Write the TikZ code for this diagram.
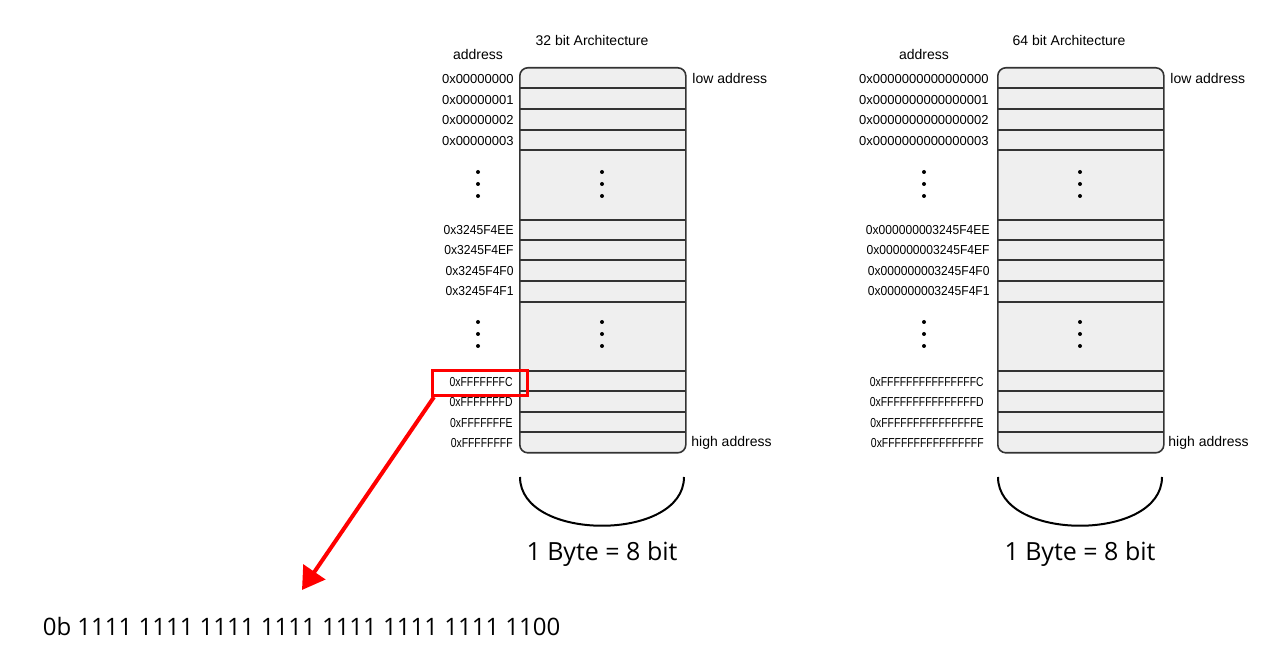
\documentclass[tikz,border=0pt]{standalone}
\usepackage{fontspec}
\setmainfont{Liberation Sans}
\newfontfamily\bigfont{Open Sans}
\usetikzlibrary{arrows.meta}
\definecolor{cellfill}{HTML}{EFEFEF}
\definecolor{cellline}{HTML}{333333}
\definecolor{hl}{HTML}{FF0000}
\newcommand{\narrowF}[1]{\scalebox{0.8}[1]{#1}}
\newcommand{\narrowM}[1]{\scalebox{0.93}[1]{#1}}
\begin{document}
\begin{tikzpicture}[x=0.5pt,y=-0.5pt,
  hexlbl/.style={font=\fontsize{6.5}{7}\selectfont, anchor=east, inner sep=0pt, yshift=-0.5pt},
  sidelbl/.style={font=\fontsize{7}{8}\selectfont, anchor=west, inner sep=0pt, yshift=-0.5pt},
  headlbl/.style={font=\fontsize{7}{8}\selectfont, inner sep=0pt, yshift=-0.5pt},
  membox/.style={draw=cellline, fill=cellfill, line width=0.8pt, rounded corners=4pt,
    minimum width=83pt, minimum height=192.5pt, anchor=north west, inner sep=0pt},
  rowline/.style={draw=cellline, line width=0.8pt},
  dotmark/.style={fill=black, circle, inner sep=0pt, minimum size=2pt},
  bytearc/.style={draw=black, line width=1pt},
  bytelbl/.style={font=\bigfont\fontsize{12.5}{14}\selectfont, inner sep=0pt},
]
\useasboundingbox (0,0) rectangle (1280,657);

% ---------------- 32 bit ----------------
\node[headlbl] (t32) at (592,40) {32 bit Architecture};
\node[headlbl] (a32) at (478,54) {address};
\node[membox] (m32) at (519,67) {};
\foreach \y in {88,109,130,150,220,240,260,281,302,371,391,412,432}
  \draw[rowline] (519,\y) -- (685,\y);
\node[sidelbl] (lo32) at (692,78) {low address};
\node[sidelbl] (hi32) at (691,442) {high address};
\node[hexlbl] (h32a) at (514,78) {0x00000000};
\node[hexlbl] (h32b) at (514,99) {0x00000001};
\node[hexlbl] (h32c) at (514,119) {0x00000002};
\node[hexlbl] (h32d) at (514,140) {0x00000003};
\node[hexlbl] (h32e) at (514,229) {\narrowM{0x3245F4EE}};
\node[hexlbl] (h32f) at (514,249) {\narrowM{0x3245F4EF}};
\node[hexlbl] (h32g) at (514,270) {\narrowM{0x3245F4F0}};
\node[hexlbl] (h32h) at (514,290) {\narrowM{0x3245F4F1}};
\node[hexlbl] (h32i) at (513,381) {\narrowF{0xFFFFFFFC}};
\node[hexlbl] (h32j) at (513,401) {\narrowF{0xFFFFFFFD}};
\node[hexlbl] (h32k) at (513,422) {\narrowF{0xFFFFFFFE}};
\node[hexlbl] (h32l) at (513,442) {\narrowF{0xFFFFFFFF}};
\foreach \x/\n in {478/l,602/r}{
  \foreach \y/\m in {172/a,184/b,196/c,322/d,334/e,346/f}
    \node[dotmark] (d32\n\m) at (\x,\y) {};
}
\draw[bytearc] (520,477) .. controls (520,542) and (684,542) .. (684,477);
\node[bytelbl] (b32) at (602,554) {1 Byte = 8 bit};

% ---------------- 64 bit ----------------
\node[headlbl] (t64) at (1069,40) {64 bit Architecture};
\node[headlbl] (a64) at (924,54) {address};
\node[membox] (m64) at (997,67) {};
\foreach \y in {88,109,130,150,220,240,260,281,302,371,391,412,432}
  \draw[rowline] (997,\y) -- (1163,\y);
\node[sidelbl] (lo64) at (1170,78) {low address};
\node[sidelbl] (hi64) at (1168,442) {high address};
\node[hexlbl] (h64a) at (989,78) {0x0000000000000000};
\node[hexlbl] (h64b) at (989,99) {0x0000000000000001};
\node[hexlbl] (h64c) at (989,119) {0x0000000000000002};
\node[hexlbl] (h64d) at (989,140) {0x0000000000000003};
\node[hexlbl] (h64e) at (990,229) {\narrowM{0x000000003245F4EE}};
\node[hexlbl] (h64f) at (990,249) {\narrowM{0x000000003245F4EF}};
\node[hexlbl] (h64g) at (990,270) {\narrowM{0x000000003245F4F0}};
\node[hexlbl] (h64h) at (990,290) {\narrowM{0x000000003245F4F1}};
\node[hexlbl] (h64i) at (984,381) {\narrowF{0xFFFFFFFFFFFFFFFC}};
\node[hexlbl] (h64j) at (984,401) {\narrowF{0xFFFFFFFFFFFFFFFD}};
\node[hexlbl] (h64k) at (984,422) {\narrowF{0xFFFFFFFFFFFFFFFE}};
\node[hexlbl] (h64l) at (984,442) {\narrowF{0xFFFFFFFFFFFFFFFF}};
\foreach \x/\n in {924/l,1080/r}{
  \foreach \y/\m in {172/a,184/b,196/c,322/d,334/e,346/f}
    \node[dotmark] (d64\n\m) at (\x,\y) {};
}
\draw[bytearc] (998,477) .. controls (998,542) and (1162,542) .. (1162,477);
\node[bytelbl] (b64) at (1080,554) {1 Byte = 8 bit};

% ---------------- highlight ----------------
\node[draw=hl, line width=1.5pt, minimum width=47.5pt, minimum height=12.5pt,
  anchor=north west, inner sep=0pt] (redbox) at (431,369) {};
\node[font=\bigfont\fontsize{12}{14}\selectfont, inner sep=0pt] (bin) at (301.5,626)
  {0b 1111 1111 1111 1111 1111 1111 1111 1100};
\coordinate (tip) at (302,590);
\draw[hl, line width=2pt, -{Triangle[length=11pt,width=13pt]}]
  ([xshift=1.5pt]redbox.south west) -- (tip);
\end{tikzpicture}
\end{document}
